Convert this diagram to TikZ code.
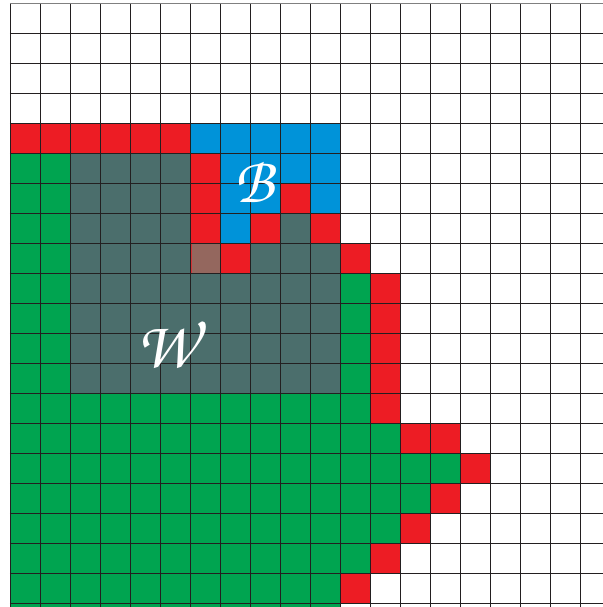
\documentclass[tikz,border=0pt]{standalone}
\usepackage{amsmath}
\definecolor{cred}{HTML}{ED1C24}
\definecolor{cblue}{HTML}{0093D9}
\definecolor{cgreen}{HTML}{00A450}
\definecolor{cgray}{HTML}{4B6E6C}
\definecolor{cbrown}{HTML}{94675E}
\definecolor{cline}{HTML}{231F20}
\tikzset{
  redc/.style={fill=cred},
  bluec/.style={fill=cblue},
  greenc/.style={fill=cgreen},
  grayc/.style={fill=cgray},
  gridline/.style={cline,line width=0.8pt},
  lab/.style={text=white,inner sep=0pt}
}
\newcommand{\chanc}[1]{{\usefont{T1}{pzc}{m}{it}#1}}
\begin{document}
\begin{tikzpicture}[x=1cm,y=1cm]
\useasboundingbox (-0.3333,0.1) rectangle (19.7667,-20.1333);
\clip (-0.3333,0.1) rectangle (19.7667,-20.1333);
% green region
\fill[greenc] (0,-5) rectangle (2,-13);
\fill[greenc] (11,-9) rectangle (12,-13);
\fill[greenc] (0,-13) rectangle (12,-14);
\fill[greenc] (0,-14) rectangle (13,-15);
\fill[greenc] (0,-15) rectangle (15,-16);
\fill[greenc] (0,-16) rectangle (14,-17);
\fill[greenc] (0,-17) rectangle (13,-18);
\fill[greenc] (0,-18) rectangle (12,-19);
\fill[greenc] (0,-19) rectangle (11,-21);
% gray region
\fill[grayc] (2,-5) rectangle (6,-13);
\fill[grayc] (6,-9) rectangle (11,-13);
\fill[grayc] (8,-8) rectangle (11,-9);
\fill[grayc] (9,-7) rectangle (10,-8);
% blue region
\fill[bluec] (6,-4) rectangle (11,-5);
\fill[bluec] (7,-5) rectangle (11,-7);
\fill[bluec] (7,-7) rectangle (8,-8);
% red cells
\fill[redc] (0,-4) rectangle (6,-5);
\fill[redc] (6,-5) rectangle (7,-8);
\foreach \c/\r in {9/6,8/7,10/7,7/8,11/8,12/9,12/10,12/11,12/12,12/13,13/14,14/14,15/15,14/16,13/17,12/18,11/19}
  \fill[redc] (\c,-\r) rectangle ++(1,-1);
% mixed cell
\fill[cbrown] (6,-8) rectangle (7,-9);
\draw[cred!70!cbrown,line width=0.6pt] (6.03,-8) -- (6.03,-9);
% grid
\foreach \i in {0,...,19}
  \draw[gridline] (\i,0) -- (\i,-21);
\foreach \j in {1,...,20}
  \draw[gridline] (0,-\j) -- (20,-\j);
\draw[gray,line width=0.8pt] (0,0) -- (20,0);
% labels
\node[lab] (B) at (8.15,-5.95) {\fontsize{62}{62}\selectfont\chanc{B}};
\node[lab] (W) at (5.2,-11.35) {\fontsize{64}{64}\selectfont\chanc{W}};
\end{tikzpicture}
\end{document}
